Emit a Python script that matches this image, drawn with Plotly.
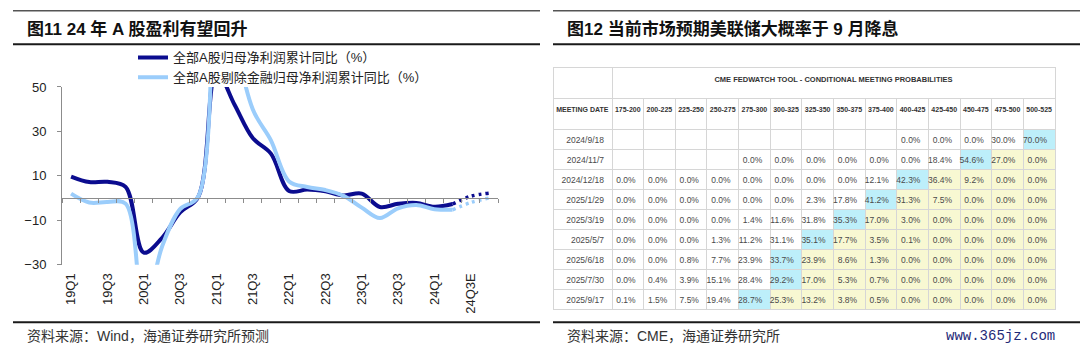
import plotly.graph_objects as go

W, H = 1080, 357

# ---------------- data: left line chart ----------------
quarters = ["19Q1", "19Q2", "19Q3", "19Q4", "20Q1", "20Q2", "20Q3", "20Q4",
            "21Q1", "21Q2", "21Q3", "21Q4", "22Q1", "22Q2", "22Q3", "22Q4",
            "23Q1", "23Q2", "23Q3", "23Q4", "24Q1", "24Q2", "24Q3E", "24Q4E"]
actual_quarters = quarters[:22]
forecast_quarters = ["24Q2", "24Q3E", "24Q4E"]

all_a_actual = [9.7, 7.2, 7.3, 5.0, -24.6, -18.0, -6.5, 0.5,
                57.0, 42.0, 27.0, 20.0, 3.2, 3.8, 3.0, 1.2,
                2.0, -4.0, -2.6, -2.2, -3.9, -2.7]
all_a_forecast = [-2.7, 0.8, 2.2]

exfin_actual = [2.0, -2.0, -1.8, -2.5, -52.0, -22.0, -5.0, 0.7,
                150.0, 75.0, 40.0, 26.0, 7.5, 5.0, 3.6, 1.0,
                -4.3, -9.0, -4.6, -3.1, -5.0, -5.3]
exfin_forecast = [-5.3, -2.0, 0.0]

series_names = ["全部A股归母净利润累计同比（%）", "全部A股剔除金融归母净利润累计同比（%）"]
y_ticks = [-30, -10, 10, 30, 50]
y_range = [-30, 50]

# ---------------- data: right table ----------------
meeting_dates = ["2024/9/18", "2024/11/7", "2024/12/18", "2025/1/29", "2025/3/19",
                 "2025/5/7", "2025/6/18", "2025/7/30", "2025/9/17"]
rate_ranges = ["175-200", "200-225", "225-250", "250-275", "275-300", "300-325", "325-350",
               "350-375", "375-400", "400-425", "425-450", "450-475", "475-500", "500-525"]
probs = [
    [None, None, None, None, None, None, None, None, None, 0.0, 0.0, 0.0, 30.0, 70.0],
    [None, None, None, None, 0.0, 0.0, 0.0, 0.0, 0.0, 0.0, 18.4, 54.6, 27.0, 0.0],
    [0.0, 0.0, 0.0, 0.0, 0.0, 0.0, 0.0, 0.0, 12.1, 42.3, 36.4, 9.2, 0.0, 0.0],
    [0.0, 0.0, 0.0, 0.0, 0.0, 0.0, 2.3, 17.8, 41.2, 31.3, 7.5, 0.0, 0.0, 0.0],
    [0.0, 0.0, 0.0, 0.0, 1.4, 11.6, 31.8, 35.3, 17.0, 3.0, 0.0, 0.0, 0.0, 0.0],
    [0.0, 0.0, 0.0, 1.3, 11.2, 31.1, 35.1, 17.7, 3.5, 0.1, 0.0, 0.0, 0.0, 0.0],
    [0.0, 0.0, 0.8, 7.7, 23.9, 33.7, 23.9, 8.6, 1.3, 0.0, 0.0, 0.0, 0.0, 0.0],
    [0.0, 0.4, 3.9, 15.1, 28.4, 29.2, 17.0, 5.3, 0.7, 0.0, 0.0, 0.0, 0.0, 0.0],
    [0.1, 1.5, 7.5, 19.4, 28.7, 25.3, 13.2, 3.8, 0.5, 0.0, 0.0, 0.0, 0.0, 0.0],
]
table_title = "CME FEDWATCH TOOL - CONDITIONAL MEETING PROBABILITIES"
date_header = "MEETING DATE"

# ---------------- styles ----------------
DARK = "#0b0c8f"
LIGHT = "#9bcdfb"
AXIS = "#8c8c8c"
GRID = "#d6d6d6"
BLUE_CELL = "#bdeffa"
YELLOW_CELL = "#f8f8d2"
CJK = "Liberation Sans, Noto Sans CJK SC, sans-serif"
NARROW = "Liberation Sans Narrow, Arial Narrow, Liberation Sans, Arial, sans-serif"


def px_x(p):
    return p / W


def px_y(p):
    return 1 - p / H


qi = {q: i for i, q in enumerate(quarters)}

fig = go.Figure()

# left chart lines
fig.add_trace(go.Scatter(
    x=[qi[q] for q in actual_quarters], y=all_a_actual, name=series_names[0],
    mode="lines", line=dict(color=DARK, width=4, shape="spline", smoothing=1.0),
    hoverinfo="skip"))
fig.add_trace(go.Scatter(
    x=[qi[q] for q in actual_quarters], y=exfin_actual, name=series_names[1],
    mode="lines", line=dict(color=LIGHT, width=4, shape="spline", smoothing=1.0),
    hoverinfo="skip"))
fig.add_trace(go.Scatter(
    x=[qi[q] for q in forecast_quarters], y=all_a_forecast, showlegend=False,
    mode="lines", line=dict(color=DARK, width=3.5, dash="3px,4px", shape="spline"),
    hoverinfo="skip"))
fig.add_trace(go.Scatter(
    x=[qi[q] for q in forecast_quarters], y=exfin_forecast, showlegend=False,
    mode="lines", line=dict(color=LIGHT, width=3.5, dash="3px,4px", shape="spline"),
    hoverinfo="skip"))
# carrier for the zero-positioned axis
fig.add_trace(go.Scatter(x=[0], y=[0], xaxis="x2", yaxis="y", mode="markers",
                         marker=dict(opacity=0), showlegend=False, hoverinfo="skip"))

dom_y = [px_y(269), px_y(83.5)]
zero_pos = dom_y[0] + (0 - y_range[0]) / (y_range[1] - y_range[0]) * (dom_y[1] - dom_y[0])
x_range = [-0.5, len(quarters) - 0.5]

# ---------------- tables ----------------
col_w_first = 59
col_w = (1055 - 612) / len(rate_ranges)

# title row (its spare cell row is covered by the main table drawn afterwards)
fig.add_trace(go.Table(
    domain=dict(x=[px_x(553), px_x(1055)], y=[px_y(140), px_y(63)]),
    columnwidth=[col_w_first, col_w * len(rate_ranges)],
    header=dict(values=["", "<b>" + table_title + "</b>"], height=32, align="center",
                fill_color="white", line=dict(color=GRID, width=1),
                font=dict(family=NARROW, size=7.5, color="#333333")),
    cells=dict(values=[[""], [""]], height=20, fill_color="white",
               line=dict(color=GRID, width=1)),
))

cell_values = [meeting_dates]
cell_fill = [["white"] * len(meeting_dates)]
for j in range(len(rate_ranges)):
    cell_values.append(["" if row[j] is None else f"{row[j]:.1f}%" for row in probs])
    cell_fill.append([])
for r, row in enumerate(probs):
    vals = [v if v is not None else -1 for v in row]
    m = vals.index(max(vals))
    for j in range(len(rate_ranges)):
        if j == m:
            c = BLUE_CELL
        elif j > m:
            c = YELLOW_CELL
        else:
            c = "white"
        cell_fill[j + 1].append(c)

fig.add_trace(go.Table(
    domain=dict(x=[px_x(553), px_x(1055)], y=[px_y(322), px_y(95)]),
    columnwidth=[col_w_first] + [col_w] * len(rate_ranges),
    header=dict(values=["<b>" + date_header.replace(" ", "&nbsp;") + "</b>"]
                + ["<b>" + r + "</b>" for r in rate_ranges],
                height=31, align="center", fill_color="white",
                line=dict(color=GRID, width=1),
                font=dict(family=NARROW, size=7, color="#333333")),
    cells=dict(values=cell_values, height=20, align="right",
               fill=dict(color=cell_fill), line=dict(color=GRID, width=1),
               font=dict(family=NARROW, size=8.5, color="#4a4a4a")),
))

# ---------------- layout ----------------
shapes = []
for x0, x1 in [(13, 540), (553, 1080)]:
    shapes.append(dict(type="line", xref="paper", yref="paper", x0=px_x(x0), x1=px_x(x1),
                       y0=px_y(4), y1=px_y(4), line=dict(color="#555555", width=1.5)))
    shapes.append(dict(type="line", xref="paper", yref="paper", x0=px_x(x0), x1=px_x(x1),
                       y0=px_y(39), y1=px_y(39), line=dict(color="#1a1a1a", width=2)))
    shapes.append(dict(type="line", xref="paper", yref="paper", x0=px_x(x0), x1=px_x(x1),
                       y0=px_y(329), y1=px_y(329), line=dict(color="#1a1a1a", width=2)))

annotations = [
    dict(text="<b>图11 24 年 A 股盈利有望回升</b>", x=px_x(25), y=px_y(23), xref="paper", yref="paper",
         xanchor="left", yanchor="middle", showarrow=False,
         font=dict(family=CJK, size=17, color="#111111")),
    dict(text="<b>图12 当前市场预期美联储大概率于 9 月降息</b>", x=px_x(565), y=px_y(23),
         xref="paper", yref="paper", xanchor="left", yanchor="middle", showarrow=False,
         font=dict(family=CJK, size=17, color="#111111")),
    dict(text="资料来源：Wind，海通证券研究所预测", x=px_x(25), y=px_y(343), xref="paper", yref="paper",
         xanchor="left", yanchor="middle", showarrow=False,
         font=dict(family=CJK, size=14, color="#333333")),
    dict(text="资料来源：CME，海通证券研究所", x=px_x(565), y=px_y(343), xref="paper", yref="paper",
         xanchor="left", yanchor="middle", showarrow=False,
         font=dict(family=CJK, size=14, color="#333333")),
    dict(text="www.365jz.com", x=px_x(1057), y=px_y(343), xref="paper", yref="paper",
         xanchor="right", yanchor="middle", showarrow=False,
         font=dict(family="Liberation Mono, DejaVu Sans Mono, monospace", size=14, color="#1f2a78")),
]

fig.update_layout(
    width=W, height=H, margin=dict(l=0, r=0, t=0, b=0),
    paper_bgcolor="white", plot_bgcolor="white",
    showlegend=True,
    legend=dict(x=px_x(133), y=px_y(37), xanchor="left", yanchor="top",
                bgcolor="rgba(0,0,0,0)", font=dict(family=CJK, size=13, color="#222222"),
                tracegroupgap=0, itemwidth=30),
    xaxis=dict(domain=[px_x(62), px_x(498)], range=x_range, tickmode="array",
               tickvals=list(range(0, len(quarters), 2)), ticktext=quarters[::2],
               tickangle=-90, showline=False, ticks="", showgrid=False, zeroline=False,
               ticklabelstandoff=5,
               tickfont=dict(family="Liberation Sans, Arial", size=13, color="#222222"),
               anchor="y"),
    xaxis2=dict(domain=[px_x(62), px_x(498)], range=x_range, overlaying="x", anchor="free",
                position=zero_pos, side="bottom", showline=True, linecolor=AXIS, linewidth=1,
                ticks="outside", ticklen=4, tickcolor=AXIS, tickmode="array",
                tickvals=[i - 0.5 for i in range(len(quarters) + 1)],
                showticklabels=False, showgrid=False, zeroline=False),
    yaxis=dict(domain=dom_y, range=y_range, tickmode="array", tickvals=y_ticks,
               showline=True, linecolor=AXIS, linewidth=1, ticks="outside", ticklen=4,
               tickcolor=AXIS, showgrid=False, zeroline=False, ticklabelstandoff=8,
               tickfont=dict(family="Liberation Sans, Arial", size=13, color="#222222")),
    shapes=shapes, annotations=annotations,
)

fig.write_html("out.html", config={"displayModeBar": False},
               post_script="document.body.style.margin='0';")
